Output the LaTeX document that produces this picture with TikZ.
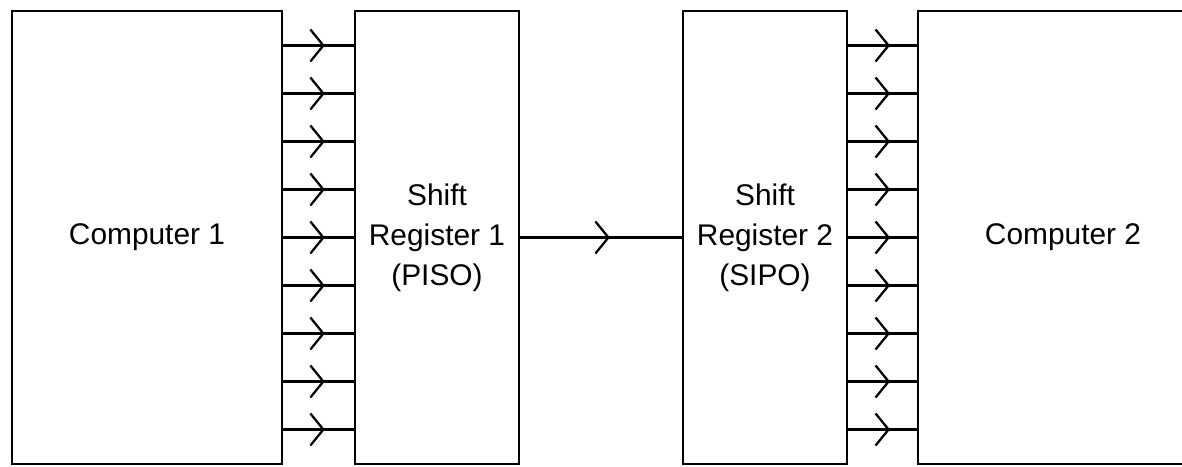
\documentclass[tikz,border=0pt]{standalone}
\usepackage{fontspec}
\setmainfont{Liberation Sans}
\usetikzlibrary{arrows.meta,decorations.markings}

\begin{document}
\begin{tikzpicture}[
  box/.style={rectangle, draw, line width=0.055cm, minimum height=9.06cm, align=center, font=\fontsize{17}{22.8}\selectfont},
  wire/.style={line width=0.045cm, postaction={decorate},
    decoration={markings, mark=at position #1 with {\arrow{Straight Barb[length=0.26cm, width=0.64cm]}}}},
  wire/.default=0.6,
]
\useasboundingbox (0,0) rectangle (23.64,9.32);

% === Computers and shift registers ===
\node[box, minimum width=5.4cm] (comp1) at (2.94, 4.57) {Computer 1};
\node[box, minimum width=3.28cm] (sr1) at (8.74, 4.57) {Shift\\Register 1\\(PISO)};
\node[box, minimum width=3.28cm] (sr2) at (15.30, 4.57) {Shift\\Register 2\\(SIPO)};
\node[box, minimum width=5.8cm] (comp2) at (21.26, 4.57) {Computer 2};

% === Parallel buses ===
\foreach \k [evaluate=\k as \y using 4.57+0.96*\k] in {-4,...,4} {
  \draw[wire=0.59] (comp1.east |- 0,\y) -- (sr1.west |- 0,\y);
  \draw[wire=0.61] (sr2.east |- 0,\y) -- (comp2.west |- 0,\y);
}

% === Serial link ===
\draw[wire=0.555] (sr1.east) -- (sr2.west);

\end{tikzpicture}
\end{document}
